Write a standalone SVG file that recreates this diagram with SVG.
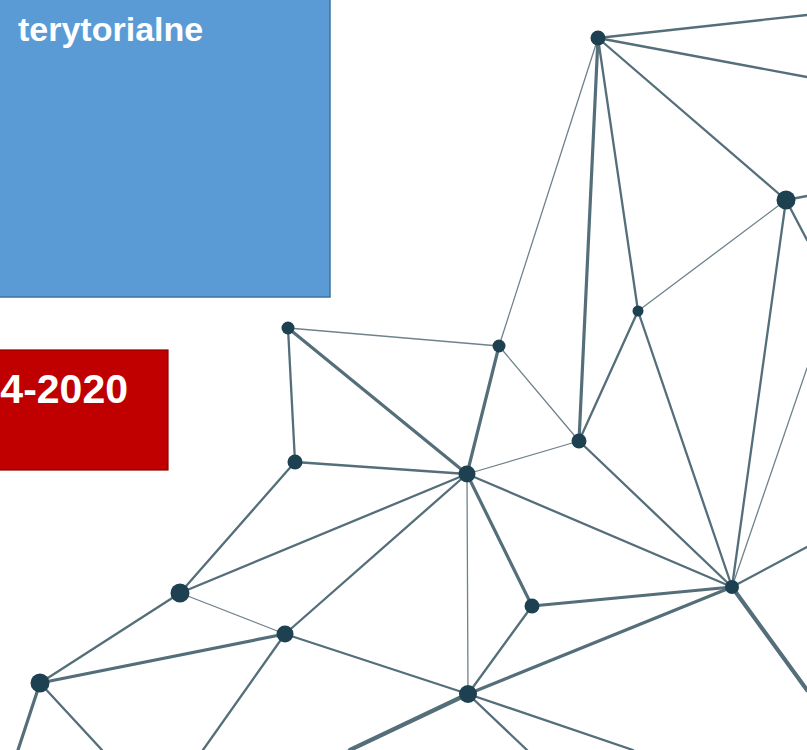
<svg xmlns="http://www.w3.org/2000/svg" width="807" height="750" viewBox="0 0 807 750">
<style>
.e{fill:none;stroke:#546e7a;stroke-linecap:round}
.t1{stroke-width:1.3;stroke:#6f828c}
.t2{stroke-width:2.3}
.t3{stroke-width:3.2}
.t4{stroke-width:4.2}
.n{fill:#1d4150}
.lbl{font-family:"Liberation Sans",Arial,sans-serif;font-weight:bold;fill:#ffffff}
</style>
<rect width="807" height="750" fill="#ffffff"/>
<g id="box-blue">
<rect x="-2" y="-2" width="332" height="299" fill="#5b9bd5" stroke="#41719c" stroke-width="1.5"/>
<text class="lbl" x="18" y="41" font-size="34">terytorialne</text>
</g>
<g id="box-red">
<rect x="-2" y="350" width="170" height="120" fill="#c00000" stroke="#8e0000" stroke-width="1.2"/>
<text class="lbl" x="128" y="403" font-size="41" text-anchor="end">4-2020</text>
</g>
<g id="connectors">
<line class="e t2" x1="598" y1="38" x2="807" y2="15"/>
<line class="e t2" x1="598" y1="38" x2="807" y2="77"/>
<line class="e t2" x1="598" y1="38" x2="786" y2="200"/>
<line class="e t1" x1="598" y1="38" x2="499" y2="346"/>
<line class="e t3" x1="598" y1="38" x2="579" y2="441"/>
<line class="e t2" x1="598" y1="38" x2="638" y2="311"/>
<line class="e t2" x1="786" y1="200" x2="807" y2="196"/>
<line class="e t1" x1="786" y1="200" x2="638" y2="311"/>
<line class="e t2" x1="786" y1="200" x2="732" y2="587"/>
<line class="e t2" x1="786" y1="200" x2="807" y2="240"/>
<line class="e t1" x1="732" y1="587" x2="807" y2="368"/>
<line class="e t2" x1="732" y1="587" x2="807" y2="547"/>
<line class="e t4" x1="732" y1="587" x2="807" y2="690"/>
<line class="e t2" x1="638" y1="311" x2="579" y2="441"/>
<line class="e t2" x1="638" y1="311" x2="732" y2="587"/>
<line class="e t1" x1="288" y1="328" x2="499" y2="346"/>
<line class="e t2" x1="288" y1="328" x2="295" y2="462"/>
<line class="e t3" x1="288" y1="328" x2="467" y2="474"/>
<line class="e t3" x1="499" y1="346" x2="467" y2="474"/>
<line class="e t1" x1="499" y1="346" x2="579" y2="441"/>
<line class="e t1" x1="579" y1="441" x2="467" y2="474"/>
<line class="e t2" x1="579" y1="441" x2="732" y2="587"/>
<line class="e t2" x1="295" y1="462" x2="467" y2="474"/>
<line class="e t2" x1="295" y1="462" x2="180" y2="593"/>
<line class="e t2" x1="467" y1="474" x2="180" y2="593"/>
<line class="e t2" x1="467" y1="474" x2="285" y2="634"/>
<line class="e t3" x1="467" y1="474" x2="532" y2="606"/>
<line class="e t1" x1="467" y1="474" x2="468" y2="694"/>
<line class="e t2" x1="467" y1="474" x2="732" y2="587"/>
<line class="e t3" x1="532" y1="606" x2="732" y2="587"/>
<line class="e t2" x1="532" y1="606" x2="468" y2="694"/>
<line class="e t3" x1="468" y1="694" x2="732" y2="587"/>
<line class="e t1" x1="180" y1="593" x2="285" y2="634"/>
<line class="e t2" x1="180" y1="593" x2="40" y2="683"/>
<line class="e t3" x1="285" y1="634" x2="40" y2="683"/>
<line class="e t2" x1="285" y1="634" x2="203" y2="750"/>
<line class="e t3" x1="40" y1="683" x2="18" y2="750"/>
<line class="e t2" x1="40" y1="683" x2="102" y2="750"/>
<line class="e t2" x1="285" y1="634" x2="468" y2="694"/>
<line class="e t4" x1="468" y1="694" x2="350" y2="750"/>
<line class="e t2" x1="468" y1="694" x2="527" y2="750"/>
<line class="e t2" x1="468" y1="694" x2="633" y2="750"/>
</g>
<g id="node-a"><circle class="n" cx="598" cy="38" r="7.5"/></g>
<g id="node-b"><circle class="n" cx="786" cy="200" r="9.5"/></g>
<g id="node-c"><circle class="n" cx="638" cy="311" r="5.5"/></g>
<g id="node-d"><circle class="n" cx="288" cy="328" r="6.5"/></g>
<g id="node-e"><circle class="n" cx="499" cy="346" r="6.5"/></g>
<g id="node-f"><circle class="n" cx="579" cy="441" r="7.5"/></g>
<g id="node-g"><circle class="n" cx="295" cy="462" r="7.5"/></g>
<g id="node-h"><circle class="n" cx="467" cy="474" r="8.5"/></g>
<g id="node-i"><circle class="n" cx="180" cy="593" r="9.5"/></g>
<g id="node-j"><circle class="n" cx="285" cy="634" r="8.5"/></g>
<g id="node-k"><circle class="n" cx="532" cy="606" r="7.5"/></g>
<g id="node-l"><circle class="n" cx="732" cy="587" r="7"/></g>
<g id="node-m"><circle class="n" cx="40" cy="683" r="9.5"/></g>
<g id="node-n"><circle class="n" cx="468" cy="694" r="9"/></g>
</svg>
